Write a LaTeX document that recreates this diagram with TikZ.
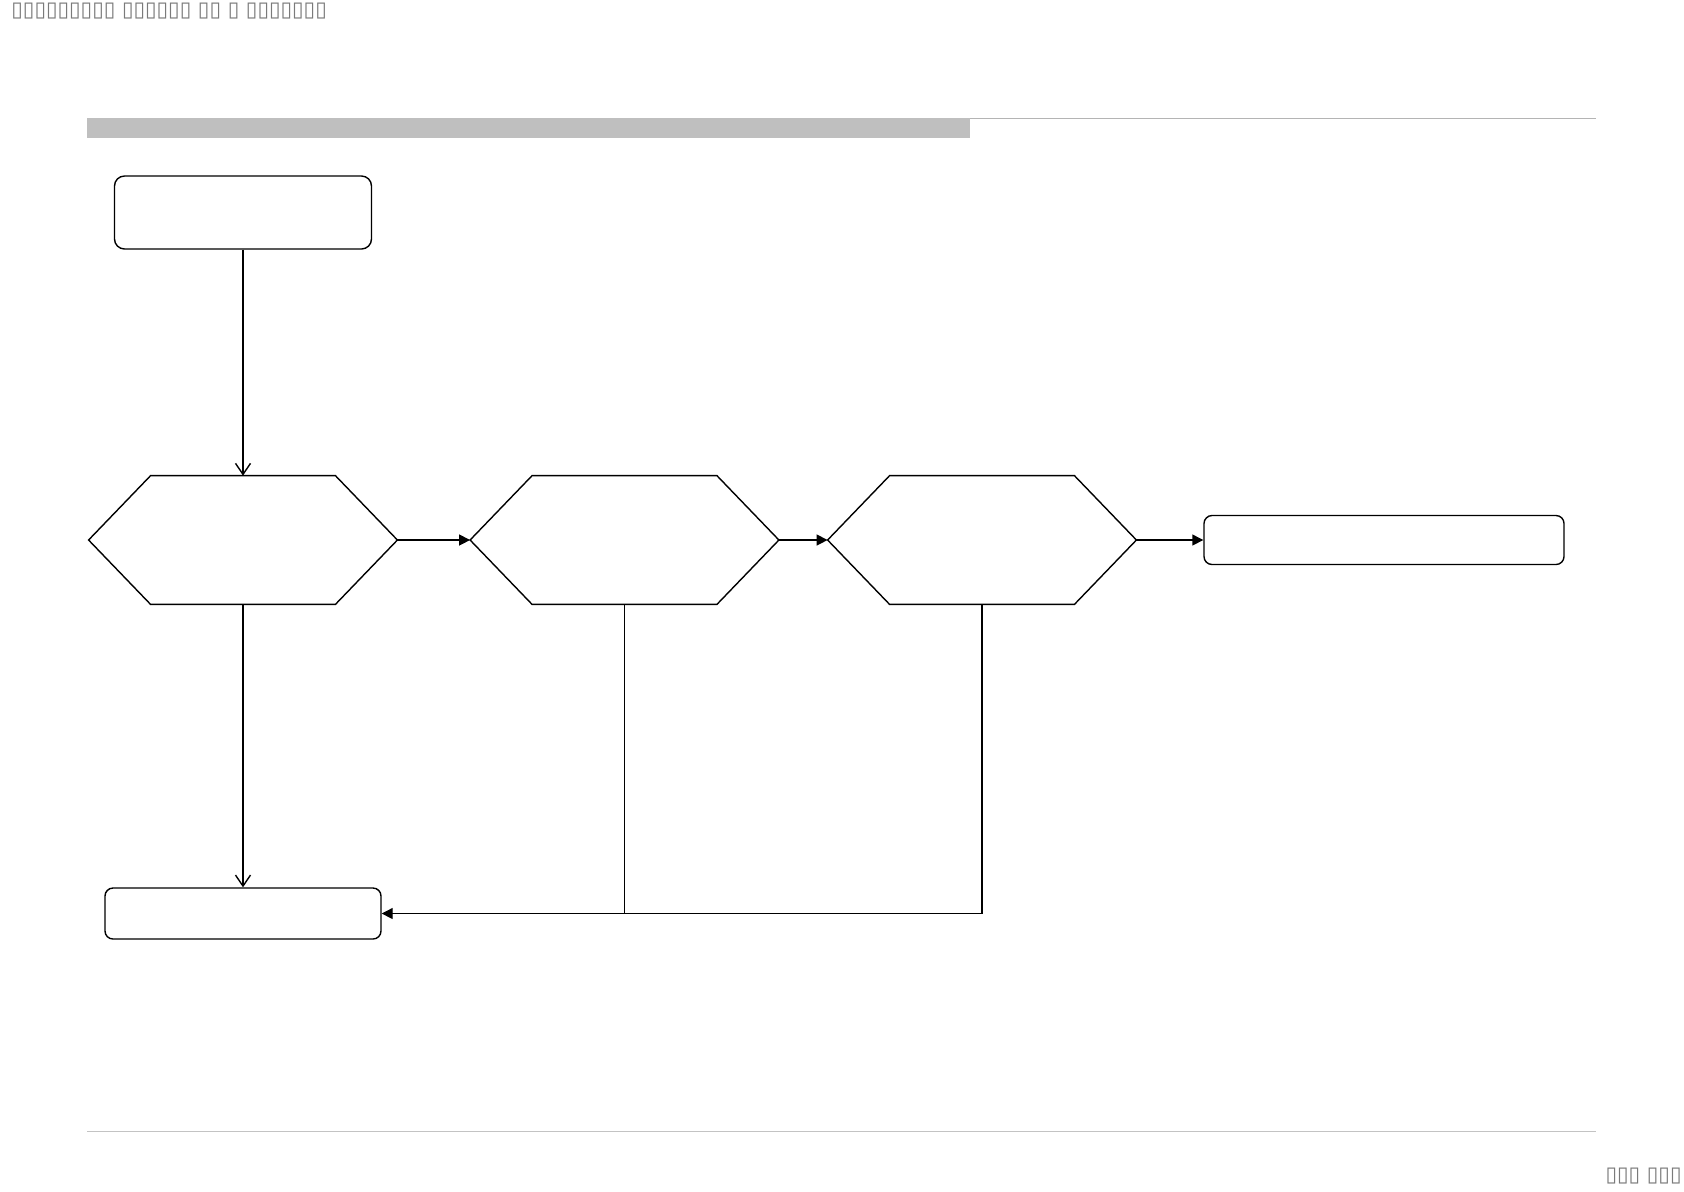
\documentclass[tikz,border=0pt]{standalone}
\usepackage{fontspec}
\newfontfamily\tofufont{DejaVu Sans}
\usetikzlibrary{arrows.meta}
\definecolor{bargray}{HTML}{BFBFBF}
\definecolor{rulegray}{HTML}{B4B4B4}
\definecolor{textgray}{HTML}{7A7A7A}
\newcommand\hexoutline[1]{%
  \draw[conn] (#1.west) -- ([xshift=31pt]#1.north west) -- ([xshift=-31pt]#1.north east)
    -- (#1.east) -- ([xshift=-31pt]#1.south east) -- ([xshift=31pt]#1.south west) -- cycle;}
\begin{document}
\begin{tikzpicture}[x=1pt,y=-1pt,
  conn/.style={line width=0.7pt, line join=miter},
  box/.style={draw, rounded corners=5pt, line width=0.7pt, inner sep=0pt},
  hexnode/.style={draw=none, minimum width=154pt, minimum height=64pt, inner sep=0pt},
  openarrow/.style={-{Straight Barb[length=5.5pt,width=7.5pt]}},
  fillarrow/.style={-{Triangle[length=5.5pt,width=5.5pt]}},
  tofu/.style={text=textgray, font=\tofufont\fontsize{10.5}{11}\selectfont, inner sep=0pt}]
\useasboundingbox (0,0) rectangle (842,595.5);
% header and footer
\fill[bargray] (43.5,59) rectangle (485,68.75);
\draw[rulegray, line width=0.6pt] (485,59.3) -- (798,59.3);
\draw[rulegray!80, line width=0.5pt] (43.5,565.5) -- (798,565.5);
\node[tofu, anchor=west] (hdr) at (5.5,5.5) {▯▯▯▯▯▯▯▯▯ ▯▯▯▯▯▯ ▯▯ ▯ ▯▯▯▯▯▯▯};
\node[tofu, anchor=east] (pg) at (841,588) {▯▯▯ ▯▯▯};
% nodes
\node[box, minimum width=128.5pt, minimum height=36.5pt] (s) at (121.5,106.25) {};
\node[hexnode] (h1) at (121.5,270) {};
\node[hexnode] (h2) at (312.25,270) {};
\node[hexnode] (h3) at (491,270) {};
\hexoutline{h1}
\hexoutline{h2}
\hexoutline{h3}
\node[box, rounded corners=4pt, minimum width=180pt, minimum height=24.5pt] (r) at (692,270) {};
\node[box, rounded corners=4pt, minimum width=138pt, minimum height=25.5pt] (b) at (121.5,456.75) {};
\coordinate (j) at (h2.south |- b.east);
% connectors
\draw[conn, openarrow] (s) -- (h1);
\draw[conn, openarrow] (h1) -- (b);
\draw[conn, fillarrow] (h1.east) -- (h2.west);
\draw[conn, fillarrow] (h2.east) -- (h3.west);
\draw[conn, fillarrow] (h3.east) -- (r.west);
\draw[conn, fillarrow] (h2.south) -- (j) -- (b.east);
\draw[conn] (h3.south) |- (j);
\end{tikzpicture}
\end{document}
